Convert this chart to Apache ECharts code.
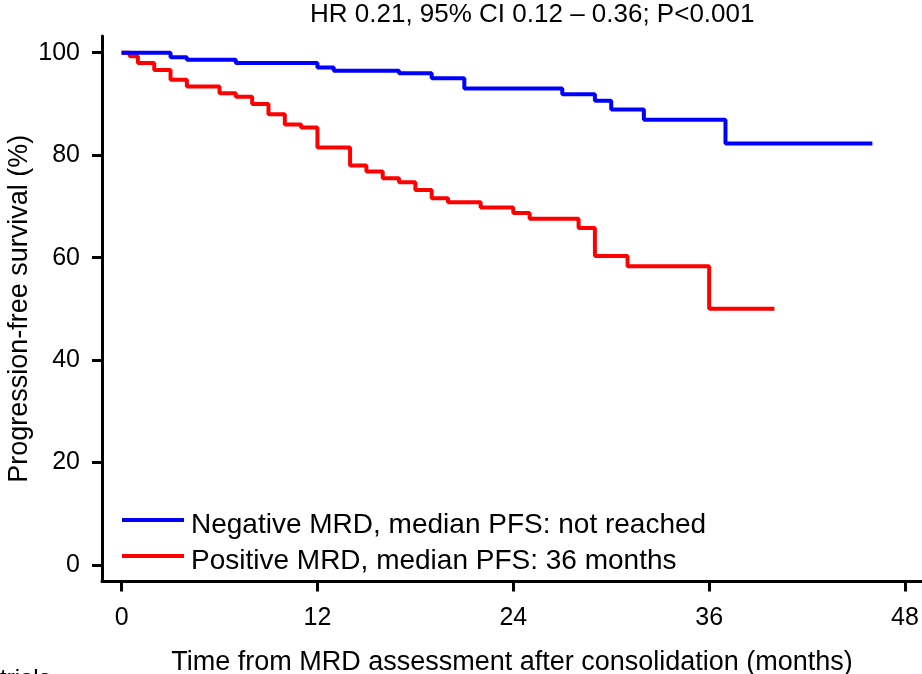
<!DOCTYPE html>
<html>
<head>
<meta charset="utf-8">
<title>Progression-free survival by MRD status</title>
<script src="https://cdn.jsdelivr.net/npm/echarts@6/dist/echarts.min.js"></script>
<style>
  html, body { margin: 0; padding: 0; background: #fff; }
  #chart { width: 922px; height: 674px; }
</style>
</head>
<body>
<div id="chart"></div>
<script>
// Kaplan-Meier estimates: time of each event (months) and survival after it (%)
const negTimes = [0, 3, 4, 7, 12, 13, 17, 19, 21, 27, 29, 30, 32, 37, 46];
const negSurv  = [100, 99.1, 98.6, 98.0, 97.1, 96.5, 96.0, 95.0, 93.0, 91.9, 90.6, 88.9, 86.9, 82.3, 82.3];

const posTimes = [0, 0.5, 1, 2, 3, 4, 6, 7, 8, 9, 10, 11, 12, 14, 15, 16, 17, 18, 19, 20, 22, 24, 25, 28, 29, 31, 36, 40];
const posSurv  = [100, 99.3, 98.0, 96.6, 94.7, 93.4, 92.1, 91.4, 90.0, 88.0, 86.0, 85.4, 81.5, 78.0, 76.8, 75.5, 74.7, 73.2, 71.6, 70.8, 69.8, 68.7, 67.6, 65.8, 60.3, 58.3, 50.0, 50.0];

const seriesNames = ['Negative MRD, median PFS: not reached', 'Positive MRD, median PFS: 36 months'];
const xTicks = [0, 12, 24, 36, 48];
const yTicks = [0, 20, 40, 60, 80, 100];

const titleText = 'HR 0.21, 95% CI 0.12 \u2013 0.36; P<0.001';
const xName = 'Time from MRD assessment after consolidation (months)';
const yName = 'Progression-free survival (%)';
const footText = 'trials';

const FONT = '"Liberation Sans", Arial, sans-serif';

// Legend key: a short bar sitting in the upper part of its box, so it rides
// slightly above the middle of the label text
const LEGEND_KEY = 'path://M0,0H62V4H0Z M61.99,13.99H62V14H61.99Z';

function pairs(ts, vs) { return ts.map((t, i) => [t, vs[i]]); }

const chart = echarts.init(document.getElementById('chart'), null, { renderer: 'canvas' });

const axisCommon = {
  axisLine: { show: true, onZero: false, lineStyle: { color: '#000', width: 3 } },
  splitLine: { show: false },
  nameMoveOverlap: false
};

chart.setOption({
  animation: false,
  backgroundColor: '#fff',
  textStyle: { fontFamily: FONT, color: '#000' },
  title: {
    text: titleText,
    left: 310,
    top: 2,
    padding: 0,
    textStyle: { fontFamily: FONT, fontSize: 26, fontWeight: 'normal', color: '#000' }
  },
  legend: {
    orient: 'vertical',
    left: 122,
    top: 510,
    padding: 0,
    itemGap: 6,
    itemWidth: 62,
    itemHeight: 14,
    icon: LEGEND_KEY,
    data: seriesNames,
    textStyle: { fontFamily: FONT, fontSize: 28, color: '#000', lineHeight: 30, padding: [0, 0, 0, 2] }
  },
  grid: { left: 102, right: 0, top: 36, bottom: 92.5, containLabel: false, outerBoundsMode: 'none' },
  xAxis: Object.assign({}, axisCommon, {
    type: 'value',
    min: -1.2,
    max: 49.04,
    name: xName,
    nameLocation: 'middle',
    nameGap: 68,
    nameTextStyle: { fontFamily: FONT, fontSize: 27, color: '#000' },
    axisTick: { show: true, inside: false, length: 10, customValues: xTicks, lineStyle: { color: '#000', width: 3 } },
    axisLabel: { show: true, margin: 24, customValues: xTicks, fontFamily: FONT, fontSize: 25, color: '#000' }
  }),
  yAxis: Object.assign({}, axisCommon, {
    type: 'value',
    min: -3.22,
    max: 103.26,
    name: yName,
    nameLocation: 'middle',
    nameGap: 69,
    nameRotate: 90,
    nameTextStyle: { fontFamily: FONT, fontSize: 27, color: '#000' },
    axisTick: { show: true, inside: false, length: 10, customValues: yTicks, lineStyle: { color: '#000', width: 3 } },
    axisLabel: { show: true, margin: 22, customValues: yTicks, fontFamily: FONT, fontSize: 25, color: '#000' }
  }),
  series: [
    {
      name: seriesNames[0],
      type: 'line',
      step: 'end',
      showSymbol: false,
      symbol: 'none',
      color: '#0000ff',
      lineStyle: { color: '#0000ff', width: 4 },
      data: pairs(negTimes, negSurv),
      z: 3
    },
    {
      name: seriesNames[1],
      type: 'line',
      step: 'end',
      showSymbol: false,
      symbol: 'none',
      color: '#ff0000',
      lineStyle: { color: '#ff0000', width: 4 },
      data: pairs(posTimes, posSurv),
      z: 2
    }
  ],
  graphic: [
    {
      type: 'text',
      left: 0,
      top: 667,
      style: { text: footText, fontFamily: FONT, fontSize: 24, fill: '#000' }
    }
  ]
});
</script>
</body>
</html>
